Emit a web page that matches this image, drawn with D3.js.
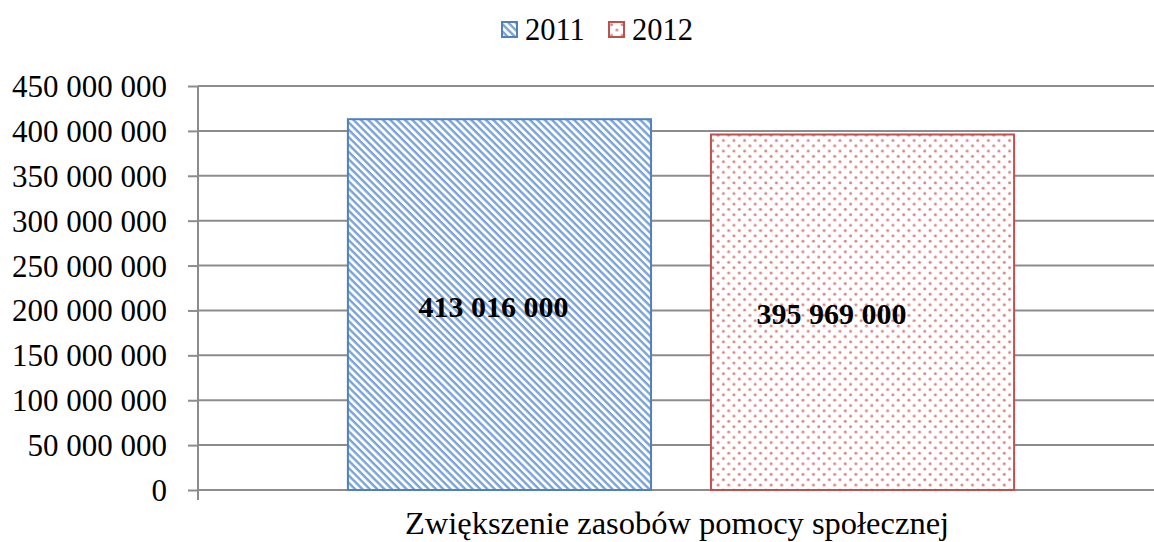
<!DOCTYPE html>
<html>
<head>
<meta charset="utf-8">
<script src="https://cdn.jsdelivr.net/npm/d3@7"></script>
<style>
  body { margin: 0; background: #fff; }
  svg { display: block; }
  svg text { font-family: "Liberation Serif", "Times New Roman", serif; fill: #000; }
</style>
</head>
<body>
<svg id="chart" width="1154" height="542"></svg>
<script>
const categories = ["Zwiększenie zasobów pomocy społecznej"];
const years = ["2011", "2012"];
const values2011 = [413016000];
const values2012 = [395969000];
const yTicks = [0, 50000000, 100000000, 150000000, 200000000, 250000000, 300000000, 350000000, 400000000, 450000000];

const width = 1154;
const height = 542;
const margin = { top: 86, right: -10, bottom: 52, left: 198 };

const colors = { "2011": "#4f81bd", "2012": "#c0504d" };
const patterns = { "2011": "url(#stripes)", "2012": "url(#dots)" };
// manual label nudges as in the original layout
const labelShift = { "2011": [-6, 2], "2012": [-31, 2] };

const svg = d3.select("#chart");

const defs = svg.append("defs");
const stripes = defs.append("pattern")
  .attr("id", "stripes")
  .attr("patternUnits", "userSpaceOnUse")
  .attr("width", 5.2)
  .attr("height", 5.2)
  .attr("patternTransform", "rotate(45)");
stripes.append("rect").attr("width", 5.2).attr("height", 5.2).attr("fill", "#fff");
stripes.append("rect").attr("width", 5.2).attr("height", 2.4).attr("fill", "#7aa3da");

const dots = defs.append("pattern")
  .attr("id", "dots")
  .attr("patternUnits", "userSpaceOnUse")
  .attr("width", 10.6)
  .attr("height", 10.6);
dots.append("rect").attr("width", 10.6).attr("height", 10.6).attr("fill", "#fff");
dots.append("circle").attr("cx", 2.6).attr("cy", 2.6).attr("r", 1.5).attr("fill", "#d98583");
dots.append("circle").attr("cx", 7.9).attr("cy", 7.9).attr("r", 1.5).attr("fill", "#d98583");

const y = d3.scaleLinear()
  .domain([0, 450000000])
  .range([height - margin.bottom, margin.top]);

const x = d3.scaleBand()
  .domain(categories)
  .range([margin.left, width - margin.right])
  .paddingInner(0)
  .paddingOuter(0.225);

const xInner = d3.scaleBand()
  .domain(years)
  .range([0, x.bandwidth()])
  .paddingInner(0.165);

const fmt = (v) => d3.format(",")(v).replace(/,/g, " ");

// gridlines
svg.append("g")
  .attr("class", "grid")
  .selectAll("line")
  .data(yTicks)
  .enter().append("line")
  .attr("x1", margin.left)
  .attr("x2", width)
  .attr("y1", (d) => y(d))
  .attr("y2", (d) => y(d))
  .attr("stroke", "#8c8c8c")
  .attr("stroke-width", 2);

// y axis
const yAxis = d3.axisLeft(y)
  .tickValues(yTicks)
  .tickSize(10)
  .tickPadding(21)
  .tickFormat(fmt);

const gy = svg.append("g")
  .attr("transform", `translate(${margin.left},0)`)
  .call(yAxis)
  .attr("font-family", null)
  .attr("font-size", null);
gy.select(".domain").remove();
gy.append("line")
  .attr("x1", 0).attr("x2", 0)
  .attr("y1", margin.top).attr("y2", height - margin.bottom + 10)
  .attr("stroke", "#8c8c8c")
  .attr("stroke-width", 2);
gy.selectAll(".tick line").attr("stroke", "#8c8c8c").attr("stroke-width", 2);
gy.selectAll(".tick text")
  .style("font-size", "31px")
  .attr("dy", "0.34em");

// bars
const rows = years.map((yr) => ({
  year: yr,
  value: (yr === "2011" ? values2011 : values2012)[0],
  category: categories[0]
}));

const bars = svg.append("g");
bars.selectAll("rect")
  .data(rows)
  .enter().append("rect")
  .attr("x", (d) => x(d.category) + xInner(d.year))
  .attr("y", (d) => y(d.value))
  .attr("width", xInner.bandwidth())
  .attr("height", (d) => y(0) - y(d.value))
  .attr("fill", (d) => patterns[d.year])
  .attr("stroke", (d) => colors[d.year])
  .attr("stroke-width", 2);

bars.selectAll("text")
  .data(rows)
  .enter().append("text")
  .attr("x", (d) => x(d.category) + xInner(d.year) + xInner.bandwidth() / 2 + labelShift[d.year][0])
  .attr("y", (d) => (y(d.value) + y(0)) / 2 + labelShift[d.year][1])
  .attr("text-anchor", "middle")
  .attr("dy", "0.34em")
  .style("font-size", "30px")
  .style("font-weight", "bold")
  .text((d) => fmt(d.value));

// category label
svg.append("text")
  .attr("x", x(categories[0]) + x.bandwidth() / 2 - 4)
  .attr("y", 534)
  .attr("text-anchor", "middle")
  .style("font-size", "32.5px")
  .text(categories[0]);

// legend
const legend = svg.append("g").attr("transform", "translate(502,22)");
const item = legend.selectAll("g")
  .data(years)
  .enter().append("g")
  .attr("transform", (d, i) => `translate(${i * 107},0)`);
item.append("rect")
  .attr("width", 15)
  .attr("height", 15)
  .attr("fill", (d) => patterns[d])
  .attr("stroke", (d) => colors[d])
  .attr("stroke-width", 2);
item.append("text")
  .attr("x", 23)
  .attr("y", 18)
  .style("font-size", "30.5px")
  .text((d) => d);
</script>
</body>
</html>
